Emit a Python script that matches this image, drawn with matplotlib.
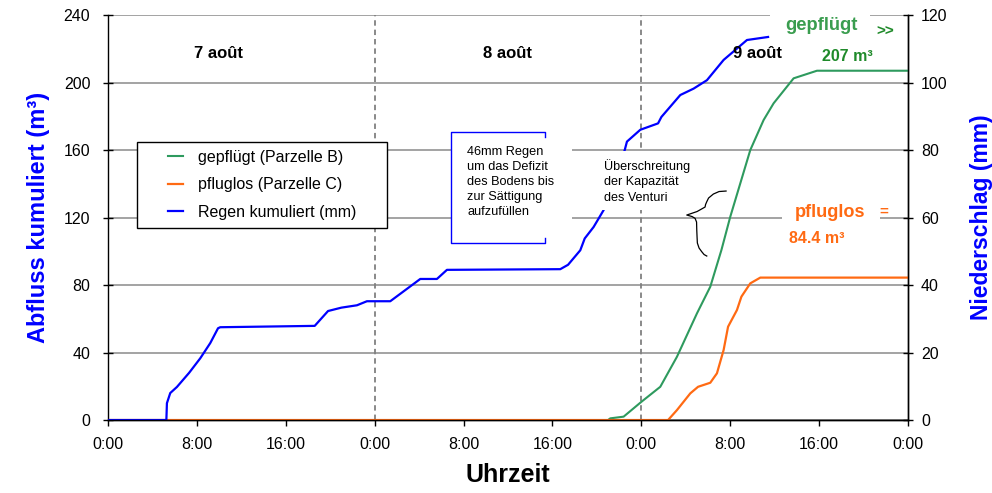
import matplotlib
matplotlib.use("Agg")
import matplotlib.pyplot as plt
from matplotlib.lines import Line2D
from matplotlib.patches import Rectangle
from matplotlib.legend_handler import HandlerLine2D

plt.rcParams['font.family'] = ['Liberation Sans', 'DejaVu Sans']

# ---------------- data ----------------
# time in hours from 7 Aug 0:00
rain_t = [0, 5.25, 5.3, 5.6, 6.2, 7.3, 8.3, 9.2, 9.9, 10.1, 18.6, 19.8, 21.0, 22.4, 23.3,
          25.4, 28.1, 29.6, 30.5, 40.7, 41.4, 42.5, 42.9, 43.7, 44.6, 45.5, 46.5, 46.7,
          47.9, 49.5, 49.8, 51.5, 52.7, 53.9, 55.4, 57.5, 59.4]
rain_mm = [0, 0, 5, 8, 9.8, 14, 18.3, 22.8, 27.2, 27.5, 27.9, 32.3, 33.3, 34, 35.2,
           35.2, 41.8, 41.8, 44.5, 44.7, 46, 50.3, 53.8, 57.2, 62.2, 71, 80, 82.5,
           86, 87.9, 89.8, 96.3, 98.2, 100.7, 106.7, 112.6, 113.5]

gepf_t = [0, 45.0, 45.2, 46.4, 48.0, 49.7, 51.2, 53.0, 54.2, 55.2, 56.0, 57.8, 59.0,
          59.9, 61.7, 63.8, 72]
gepf_v = [0, 0, 1, 2, 10.8, 19.7, 37.5, 63.2, 79, 100.7, 120.5, 160, 177.8,
          187.7, 202.5, 207, 207]

pflug_t = [0, 50.4, 51.2, 52.4, 53.1, 54.2, 54.8, 55.4, 55.8, 56.6, 57.0, 57.8, 58.7, 72]
pflug_v = [0, 0, 5.9, 15.8, 19.7, 22.1, 27.7, 41.5, 55.3, 65.2, 73.1, 81, 84.4, 84.4]

xticks = [0, 8, 16, 24, 32, 40, 48, 56, 64, 72]
xticklabels = ["0:00", "8:00", "16:00", "0:00", "8:00", "16:00", "0:00", "8:00", "16:00", "0:00"]
day_labels = ["7 août", "8 août", "9 août"]
day_sep = [24, 48]

C_GREEN = '#2e9a5e'
C_ORANGE = '#ff6a13'
C_BLUE = '#0000ff'

# ---------------- figure ----------------
fig = plt.figure(figsize=(9.92, 4.93), dpi=100)
ax = fig.add_axes([0.1089, 0.148, 0.8065, 0.8215])
ax2 = ax.twinx()

ax.set_xlim(0, 72)
ax.set_ylim(0, 240)
ax2.set_ylim(0, 120)

ax.set_yticks(range(0, 241, 40))
ax2.set_yticks(range(0, 121, 20))
ax.set_xticks(xticks)
ax.set_xticklabels(xticklabels)

ax.grid(axis='y', color='#8a8a8a', lw=1.1)
ax.set_axisbelow(True)
for x in day_sep:
    ax.axvline(x, color='#808080', lw=1.3, ls=(0, (3, 2.2)), zorder=1)

l_g, = ax.plot(gepf_t, gepf_v, color=C_GREEN, lw=1.5, zorder=3, label='gepflügt (Parzelle B)')
l_o, = ax.plot(pflug_t, pflug_v, color=C_ORANGE, lw=1.6, zorder=4, label='pfluglos (Parzelle C)')
l_b, = ax2.plot(rain_t, rain_mm, color=C_BLUE, lw=1.6, zorder=2, label='Regen kumuliert (mm)')

for a in (ax, ax2):
    a.spines['top'].set_visible(False)
    for s in a.spines.values():
        s.set_linewidth(1.0)
ax2.spines['left'].set_visible(False)

ax.tick_params(axis='y', direction='inout', length=7.5, width=1, pad=9.0, labelsize=11.5)
ax2.tick_params(axis='y', direction='inout', length=7.5, width=1, pad=5.5, labelsize=11.5)
ax.tick_params(axis='x', direction='out', length=4, width=1, pad=8, labelsize=11.5)

ax.set_ylabel('Abfluss kumuliert (m³)', color=C_BLUE, fontsize=17, fontweight='bold', labelpad=10)
ax2.set_ylabel('Niederschlag (mm)', color=C_BLUE, fontsize=16.5, fontweight='bold', labelpad=16)
ax.set_xlabel('Uhrzeit', fontsize=18, fontweight='bold', labelpad=8)

T = ax2.transAxes


def fx(px):
    return (px - 108) / 800.0


def fy(py):
    return (420 - py) / 405.0


def white_box(x0, y0, x1, y1):
    r = Rectangle((fx(x0), fy(y1)), fx(x1) - fx(x0), fy(y0) - fy(y1), transform=T,
                  facecolor='white', edgecolor='none', zorder=10, clip_on=False)
    ax2.add_patch(r)


# white boxes behind annotations
white_box(452, 132, 572, 244)
white_box(595, 151, 705, 210)
white_box(770, 2, 870, 47)
white_box(782, 198, 880, 248)

# blue partial frame around note
bx = [545, 545, 450.7, 450.7, 545, 545]
by = [137, 131.7, 131.7, 243.3, 243.3, 238]
ax2.add_line(Line2D([fx(v) for v in bx], [fy(v) for v in by], transform=T,
                    color=C_BLUE, lw=1.0, zorder=11, clip_on=False))

# curly brace
brx = [726, 719, 713.3, 708.5, 706.7, 705.5, 705, 697, 686.7, 692, 695, 696.5, 696.7,
       697, 697.3, 699, 701.7, 704, 706.7]
bry = [191, 191.5, 194, 198, 201.7, 204.5, 207, 211.5, 215, 216.5, 218.3, 222, 230,
       237, 243, 248, 251.7, 254.5, 256]
ax2.add_line(Line2D([fx(v) for v in brx], [fy(v) for v in bry], transform=T,
                    color='black', lw=0.9, zorder=11, clip_on=False))

# day labels
for lab, px in zip(day_labels, [218, 507, 757]):
    ax2.text(fx(px), fy(53), lab, transform=T, ha='center', va='center',
             fontsize=12, fontweight='bold', color='black', zorder=12)

ax2.text(fx(467), fy(146), "46mm Regen\num das Defizit\ndes Bodens bis\nzur Sättigung\naufzufüllen",
         transform=T, ha='left', va='top', fontsize=9.2, linespacing=1.33, zorder=12)
ax2.text(fx(604), fy(159), "Überschreitung\nder Kapazität\ndes Venturi",
         transform=T, ha='left', va='top', fontsize=9.1, linespacing=1.37, zorder=12)

ax2.text(fx(821), fy(25), "gepflügt", transform=T, ha='center', va='center',
         fontsize=13.2, fontweight='bold', color='#3a9d4f', zorder=12, clip_on=False)
ax2.text(fx(885), fy(32), ">>", transform=T, ha='center', va='center',
         fontsize=11, fontweight='bold', color='#1f8a2a', zorder=12, clip_on=False)
ax2.text(fx(822), fy(56), "207 m³", transform=T, ha='left', va='center',
         fontsize=11.5, fontweight='bold', color='#1f8a2a', zorder=12, clip_on=False)

ax2.text(fx(830), fy(212), "pfluglos", transform=T, ha='center', va='center',
         fontsize=13.1, fontweight='bold', color=C_ORANGE, zorder=12)
ax2.text(fx(884), fy(212), "=", transform=T, ha='center', va='center',
         fontsize=11, fontweight='bold', color=C_ORANGE, zorder=12)
ax2.text(fx(789), fy(238), "84.4 m³", transform=T, ha='left', va='center',
         fontsize=11.5, fontweight='bold', color=C_ORANGE, zorder=12)


class RightHandler(HandlerLine2D):
    def create_artists(self, legend, orig_handle, xdescent, ydescent, width, height,
                       fontsize, trans):
        y = height / 2.0 - ydescent
        x1 = -xdescent + width
        line = Line2D([x1 - 11, x1], [y, y])
        self.update_prop(line, orig_handle, legend)
        line.set_transform(trans)
        return [line]


leg = ax2.legend(handles=[l_g, l_o, l_b], loc='upper left',
                 bbox_to_anchor=(fx(136.7), 0.3, 0.3125, fy(141.7) - 0.3),
                 mode='expand', borderaxespad=0, fontsize=11.5, frameon=True,
                 fancybox=False, edgecolor='black', framealpha=1, borderpad=0.5,
                 labelspacing=0.78, handlelength=2.4, handletextpad=0.95,
                 handler_map={Line2D: RightHandler()})
leg.get_frame().set_linewidth(1.0)
leg.set_zorder(13)

fig.savefig('out.png', dpi=100)
